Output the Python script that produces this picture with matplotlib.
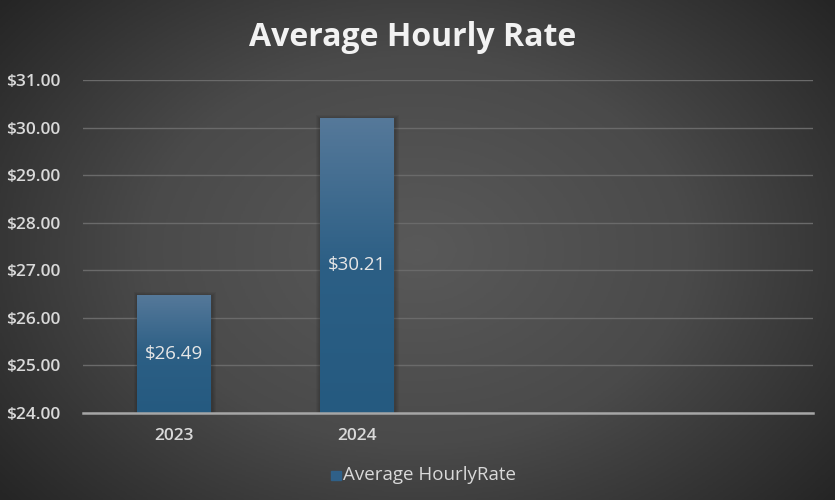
import numpy as np
import matplotlib.pyplot as plt
from matplotlib.colors import LinearSegmentedColormap

years = ['2023', '2024', '', '']
rates = [26.49, 30.21, np.nan, np.nan]
yticks = [24, 25, 26, 27, 28, 29, 30, 31]

plt.rcParams['font.family'] = ['Open Sans', 'DejaVu Sans']

fig = plt.figure(figsize=(8.35, 5), dpi=100)

# background: radial-ish grey gradient
bg = fig.add_axes([0, 0, 1, 1], zorder=-10)
yy, xx = np.mgrid[0:1:300j, 0:1:500j]
r = np.sqrt(((xx - 0.5) / 0.75) ** 2 + ((yy - 0.5) / 0.9) ** 2)
bg_cmap = LinearSegmentedColormap.from_list('bg', ['#595959', '#4a4a4a', '#252525'])
bg.imshow(np.clip(r, 0, 1), cmap=bg_cmap, aspect='auto', extent=[0, 1, 0, 1], origin='lower')
bg.set_axis_off()

ax = fig.add_axes([0.0994, 0.174, 0.8743, 0.666])
ax.patch.set_alpha(0)
x = np.arange(len(years))
bars = ax.bar(x, rates, width=0.405, bottom=0, color='none', zorder=3)

# vertical gradient fill for bars
bar_cmap = LinearSegmentedColormap.from_list('bar', ['#255a80', '#2c5f85', '#56799a'])
grad = np.linspace(0, 1, 256).reshape(-1, 1)
for b, v in zip(bars, rates):
    if np.isnan(v):
        continue
    x0 = b.get_x()
    w = b.get_width()
    # soft shadow
    for k in range(4):
        ax.bar(x0 + w / 2 + 0.004, v - 24 + 0.02 * k, width=w + 0.012 * (k + 1),
               bottom=24, color='black', alpha=0.05, zorder=2, linewidth=0)
    im = ax.imshow(grad, cmap=bar_cmap, aspect='auto', origin='lower',
                   extent=[x0, x0 + w, 24, v], zorder=3)
    im.set_clip_path(b)
    ax.text(x0 + w / 2, (24 + v) / 2, f'${v:.2f}', ha='center', va='center',
            color='#e6e6e6', fontsize=13.5, zorder=5)
ax.set_xlim(-0.5, len(years) - 0.5)
ax.set_ylim(24, 31)

ax.set_yticks(yticks)
ax.set_yticklabels([f'${t:.2f}' for t in yticks])
ax.set_xticks(x)
ax.set_xticklabels(years)
ax.tick_params(length=0, colors='#d9d9d9', labelsize=12.5)
ax.tick_params(axis='y', pad=16)
ax.tick_params(axis='x', pad=11)
for lab in ax.get_yticklabels() + ax.get_xticklabels():
    lab.set_fontweight('semibold')
ax.grid(axis='y', color='#6a6a6a', linewidth=1, zorder=0)
ax.set_axisbelow(True)
for s in ['top', 'right', 'left']:
    ax.spines[s].set_visible(False)
ax.spines['bottom'].set_color('#a6a6a6')
ax.spines['bottom'].set_linewidth(1.8)
ax.spines['bottom'].set_zorder(6)

fig.text(0.494, 0.926, 'Average Hourly Rate', ha='center', va='center',
         color='#f2f2f2', fontsize=23, fontweight='bold')

# legend
fig.patches.append(plt.Rectangle((0.397, 0.041), 0.011, 0.018, transform=fig.transFigure,
                                 color='#2f6088', figure=fig))
fig.text(0.411, 0.05, 'Average HourlyRate', ha='left', va='center',
         color='#d9d9d9', fontsize=13.5)

fig.savefig('out.png', dpi=100)
